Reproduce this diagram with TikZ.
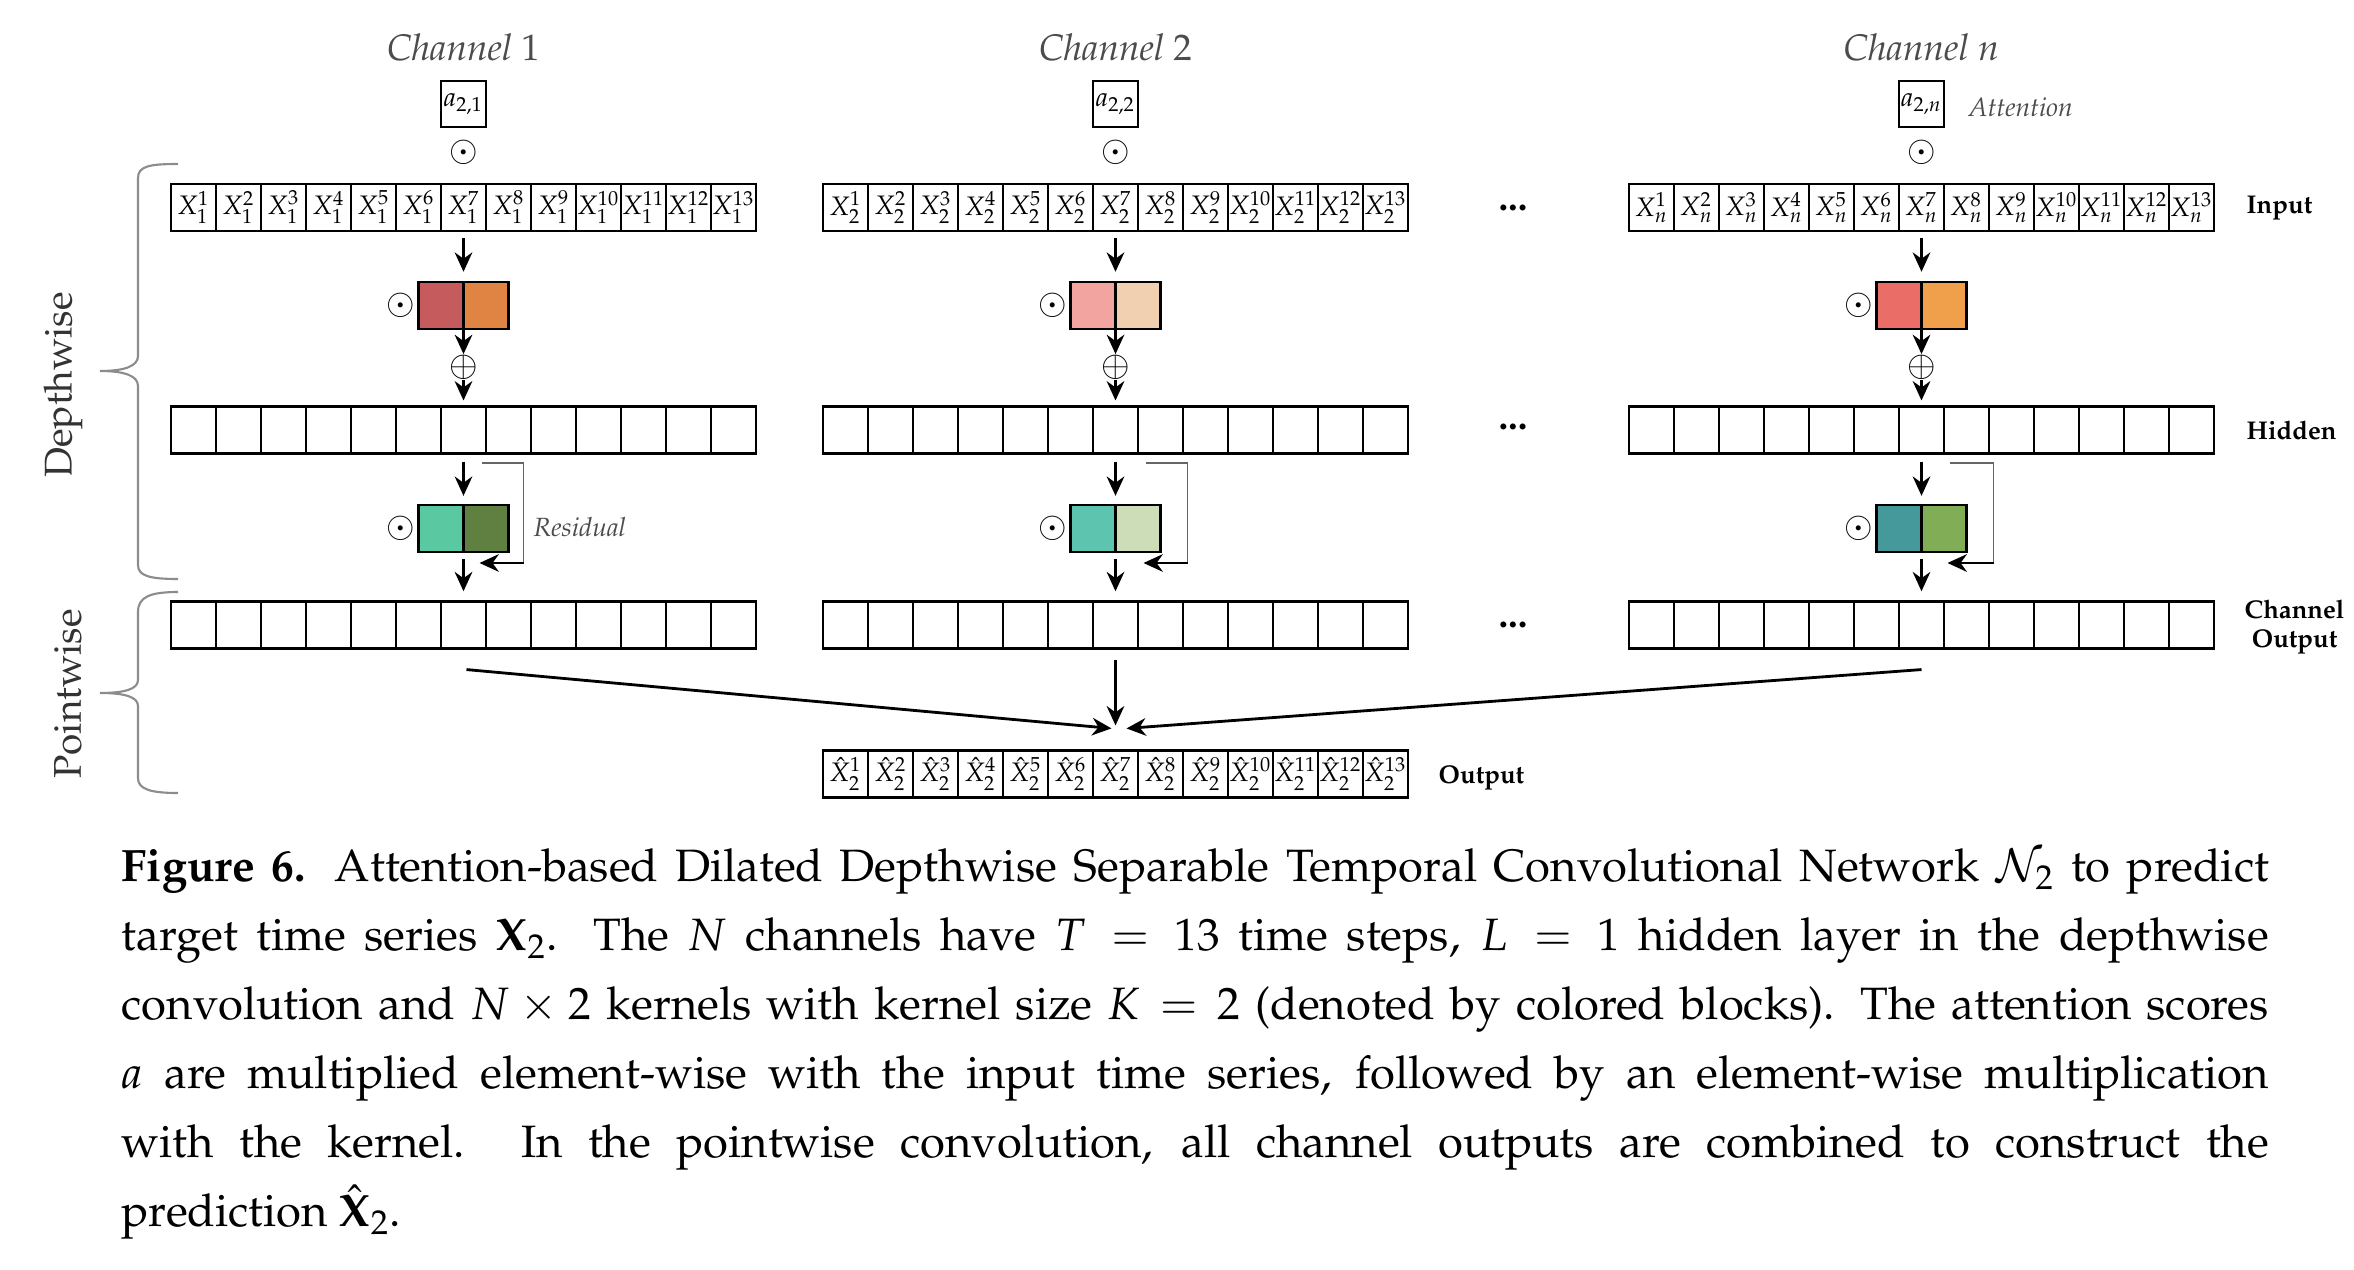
\documentclass[tikz,border=0pt]{standalone}
\usepackage[T1]{fontenc}
\usepackage{mathpazo}
\usepackage{amsmath}
\usepackage{xcolor}
\usepackage{tikz}
\usetikzlibrary{positioning, calc, arrows.meta}

\definecolor{cAa}{HTML}{C65B5E}
\definecolor{cAb}{HTML}{E08443}
\definecolor{cBa}{HTML}{F2A5A0}
\definecolor{cBb}{HTML}{F1CFB1}
\definecolor{cNa}{HTML}{EB6D68}
\definecolor{cNb}{HTML}{F0A04B}
\definecolor{dAa}{HTML}{5AC8A0}
\definecolor{dAb}{HTML}{5F8040}
\definecolor{dBa}{HTML}{5DC4B0}
\definecolor{dBb}{HTML}{CCDDB8}
\definecolor{dNa}{HTML}{46999A}
\definecolor{dNb}{HTML}{80AD55}

\tikzset{
  tcell/.style={draw, line width=0.6pt, minimum width=0.45cm, minimum height=0.47cm, inner sep=0pt, font=\fontsize{7.6}{9}\selectfont},
  kcell/.style={tcell, fill=#1},
  opsym/.style={inner sep=0pt, font=\fontsize{10}{10}\selectfont},
  chname/.style={text=black!70, font=\fontsize{10.5}{12}\selectfont\itshape},
  notetext/.style={text=black!70, inner sep=0pt, font=\fontsize{7.5}{9}\selectfont\itshape},
  lyrlabel/.style={inner sep=0pt, align=center, font=\fontsize{7.3}{8.3}\selectfont\bfseries},
  sidelabel/.style={rotate=90, text=black!80, font=\fontsize{11}{12}\selectfont},
  gapdots/.style={inner sep=0pt, font=\fontsize{11}{11}\selectfont\bfseries},
  bracepath/.style={draw=black!45, line width=0.6pt},
  resline/.style={draw=black!60, line width=0.45pt},
  flowarrow/.style={->, line width=0.8pt},
}

\begin{document}
\begin{tikzpicture}[x=0.01cm, y=-0.01cm, >={Stealth[length=5.5pt,width=5pt]}]
  \path[fill=white, use as bounding box] (0,0) rectangle (2354,1270);

  \foreach \c/\s/\ro/\so/\kl/\kr/\hl/\hr in {1/171/60/18/cAa/cAb/dAa/dAb, 2/823/72/30/cBa/cBb/dBa/dBb, n/1629/72/28/cNa/cNb/dNa/dNb}{
    \pgfmathsetmacro{\cx}{\s+292.5}
    \foreach \i in {1,...,13}{
      \node[tcell] (in-\c-\i) at (\s+45*\i-22.5, 207.5) {$X_{\c}^{\i}$};
      \node[tcell] (hid-\c-\i) at (\s+45*\i-22.5, 430) {};
      \node[tcell] (out-\c-\i) at (\s+45*\i-22.5, 625) {};
    }
    \node[chname] (name-\c) at (\cx, 47) {Channel $\c$};
    \node[tcell, minimum height=0.46cm] (att-\c) at (\cx, 104) {$a_{2,\c}$};
    \node[opsym] (dot-\c) at (\cx, 152) {$\odot$};

    \node[kcell=\kl] (ka-\c) at (\cx-22.5, 305.5) {};
    \node[kcell=\kr] (kb-\c) at (\cx+22.5, 305.5) {};
    \node[opsym] (kdot-\c) at (\cx-63, 305.5) {$\odot$};
    \node[opsym] (sum-\c) at (\cx, 367) {$\oplus$};

    \node[kcell=\hl] (kc-\c) at (\cx-22.5, 528.5) {};
    \node[kcell=\hr] (kd-\c) at (\cx+22.5, 528.5) {};
    \node[opsym] (hdot-\c) at (\cx-63, 528.5) {$\odot$};

    \draw[flowarrow, shorten <=1.7pt, shorten >=2.6pt] (in-\c-7.south) -- (in-\c-7.south |- ka-\c.north);
    \draw[flowarrow] (sum-\c.north |- ka-\c.south) -- (sum-\c.north);
    \draw[flowarrow, shorten >=1.4pt] (sum-\c.south) -- (hid-\c-7.north);
    \draw[flowarrow, shorten <=2pt, shorten >=2.3pt] (hid-\c-7.south) -- (hid-\c-7.south |- kc-\c.north);
    \draw[flowarrow, shorten <=1.7pt, shorten >=2.6pt] (out-\c-7.north |- kc-\c.south) -- (out-\c-7.north);

    \coordinate (res-a-\c) at (\cx+\so, 463);
    \coordinate (res-b-\c) at (\cx+\ro, 563);
    \coordinate (res-c-\c) at (\cx+\so-2, 563);
    \draw[resline] (res-a-\c) -| (res-b-\c);
    \draw[flowarrow] (res-b-\c) -- (res-c-\c);
  }

  \node[notetext, anchor=west] (att-label) at (1968, 107) {Attention};
  \node[notetext, anchor=west] (res-label) at (533, 527) {Residual};

  \node[gapdots] (gap-in) at (1513, 208) {...};
  \node[gapdots] (gap-hid) at (1513, 427) {...};
  \node[gapdots] (gap-out) at (1513, 625) {...};

  \node[lyrlabel, anchor=west] (lab-in) at (2246, 208) {Input};
  \node[lyrlabel, anchor=west] (lab-hid) at (2246, 430) {Hidden};
  \node[lyrlabel, anchor=west] (lab-out) at (2244, 627) {Channel\\Output};

  \foreach \i in {1,...,13}{
    \node[tcell] (pred-\i) at (823+45*\i-22.5, 774) {$\hat{X}_2^{\i}$};
  }
  \node[lyrlabel, anchor=west] (lab-pred) at (1438, 778) {Output};

  \coordinate (src-1) at ($(out-1-7.south)+(3,20)$);
  \coordinate (src-2) at ($(out-2-7.south)+(0,10)$);
  \coordinate (src-n) at ($(out-n-7.south)+(0,20)$);
  \coordinate (hit-1) at ($(pred-7.north)+(-4,-21)$);
  \coordinate (hit-2) at ($(pred-7.north)+(0,-24)$);
  \coordinate (hit-n) at ($(pred-7.north)+(11,-21)$);
  \draw[flowarrow] (src-1) -- (hit-1);
  \draw[flowarrow] (src-2) -- (hit-2);
  \draw[flowarrow] (src-n) -- (hit-n);

  \draw[bracepath] (178,164) .. controls (150,164) and (138,166) .. (138,178) -- (138,356)
    .. controls (138,366) and (125,371) .. (100,371) .. controls (125,371) and (138,376) .. (138,386)
    -- (138,565) .. controls (138,576) and (150,579) .. (178,579);
  \draw[bracepath] (178,592) .. controls (150,592) and (138,597) .. (138,612) -- (138,680)
    .. controls (138,689) and (125,693) .. (100,693) .. controls (125,693) and (138,697) .. (138,706)
    -- (138,778) .. controls (138,789) and (150,793) .. (178,793);
  \node[sidelabel] (depth) at (63, 385) {Depthwise};
  \node[sidelabel] (point) at (68, 694) {Pointwise};

  \node[anchor=north west, inner sep=0pt, text width=21.46cm, align=justify, font=\fontsize{12.9}{19.6}\selectfont] (cap) at (121, 848)
    {\textbf{Figure 6.} Attention-based Dilated Depthwise Separable Temporal Convolutional Network $\mathcal{N}_2$ to predict\linebreak
    target time series $\mathbf{X}_2$. The $N$ channels have $T = 13$ time steps, $L = 1$ hidden layer in the depthwise\linebreak
    convolution and $N \times 2$ kernels with kernel size $K = 2$ (denoted by colored blocks). The attention scores\linebreak
    $a$ are multiplied element-wise with the input time series, followed by an element-wise multiplication\linebreak
    with the kernel. In the pointwise convolution, all channel outputs are combined to construct the\linebreak
    prediction $\hat{\mathbf{X}}_2$.};
\end{tikzpicture}
\end{document}
